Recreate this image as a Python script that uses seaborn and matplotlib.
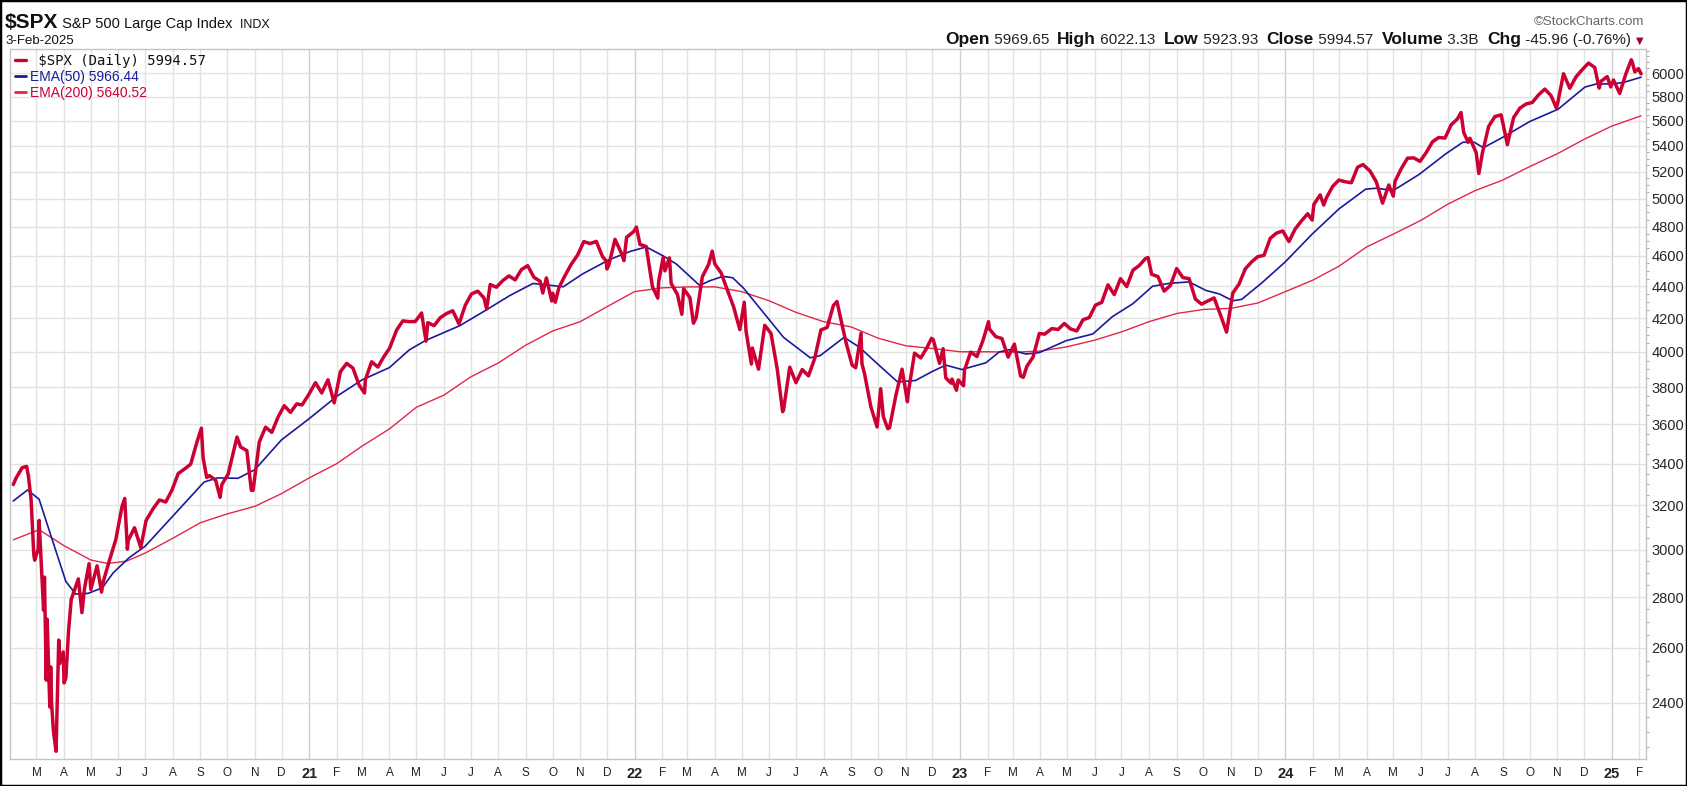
"""$SPX daily close with EMA(50) and EMA(200), StockCharts look. Saves out.png."""
import matplotlib
matplotlib.use("Agg")
import matplotlib.pyplot as plt
from matplotlib.lines import Line2D
from matplotlib.offsetbox import AnchoredOffsetbox, HPacker, TextArea
from matplotlib.patches import Rectangle
from matplotlib.ticker import FixedLocator, FixedFormatter, NullFormatter
import pandas as pd
import seaborn as sns

# closes (weekly + a few daily extremes)
SPX_2020 = [
    ("2020-02-04", 3298), ("2020-02-07", 3328), ("2020-02-14", 3380), ("2020-02-19", 3386),
    ("2020-02-21", 3338), ("2020-02-24", 3226), ("2020-02-27", 2979), ("2020-02-28", 2954),
    ("2020-03-03", 3003), ("2020-03-04", 3130), ("2020-03-06", 2972), ("2020-03-09", 2747),
    ("2020-03-10", 2882), ("2020-03-12", 2481), ("2020-03-13", 2711), ("2020-03-16", 2386),
    ("2020-03-17", 2529), ("2020-03-18", 2398), ("2020-03-20", 2305), ("2020-03-23", 2237),
    ("2020-03-26", 2630), ("2020-03-27", 2541), ("2020-03-31", 2585), ("2020-04-01", 2471),
    ("2020-04-03", 2489), ("2020-04-06", 2664), ("2020-04-09", 2790), ("2020-04-17", 2875),
    ("2020-04-21", 2737), ("2020-04-24", 2837), ("2020-04-29", 2939), ("2020-05-01", 2831),
    ("2020-05-08", 2930), ("2020-05-13", 2820), ("2020-05-15", 2864), ("2020-05-22", 2955),
    ("2020-05-29", 3044), ("2020-06-05", 3194), ("2020-06-08", 3232), ("2020-06-11", 3002),
    ("2020-06-12", 3041), ("2020-06-19", 3097), ("2020-06-26", 3009), ("2020-07-02", 3130),
    ("2020-07-10", 3185), ("2020-07-17", 3225), ("2020-07-24", 3215), ("2020-07-31", 3271),
    ("2020-08-07", 3351), ("2020-08-14", 3373), ("2020-08-21", 3397), ("2020-08-28", 3508),
    ("2020-09-02", 3580), ("2020-09-04", 3427), ("2020-09-08", 3332), ("2020-09-11", 3341),
    ("2020-09-18", 3319), ("2020-09-23", 3237), ("2020-09-25", 3298), ("2020-10-02", 3348),
    ("2020-10-09", 3477), ("2020-10-12", 3534), ("2020-10-16", 3483), ("2020-10-23", 3465),
    ("2020-10-28", 3271), ("2020-10-30", 3270), ("2020-11-06", 3509), ("2020-11-13", 3585),
    ("2020-11-20", 3558), ("2020-11-27", 3638), ("2020-12-04", 3699), ("2020-12-11", 3663),
    ("2020-12-18", 3709), ("2020-12-24", 3703), ("2020-12-31", 3756),
]
SPX_2021 = [
    ("2021-01-08", 3825), ("2021-01-15", 3768), ("2021-01-22", 3841), ("2021-01-27", 3750),
    ("2021-01-29", 3714), ("2021-02-05", 3887), ("2021-02-12", 3934), ("2021-02-19", 3907),
    ("2021-02-26", 3811), ("2021-03-04", 3768), ("2021-03-05", 3842), ("2021-03-12", 3943),
    ("2021-03-19", 3913), ("2021-03-26", 3975), ("2021-04-01", 4020), ("2021-04-09", 4129),
    ("2021-04-16", 4185), ("2021-04-23", 4180), ("2021-04-30", 4181), ("2021-05-07", 4233),
    ("2021-05-12", 4063), ("2021-05-14", 4174), ("2021-05-21", 4156), ("2021-05-28", 4204),
    ("2021-06-04", 4230), ("2021-06-11", 4247), ("2021-06-18", 4166), ("2021-06-25", 4281),
    ("2021-07-02", 4352), ("2021-07-09", 4370), ("2021-07-16", 4327), ("2021-07-19", 4258),
    ("2021-07-23", 4412), ("2021-07-30", 4395), ("2021-08-06", 4437), ("2021-08-13", 4468),
    ("2021-08-20", 4442), ("2021-08-27", 4509), ("2021-09-03", 4535), ("2021-09-10", 4459),
    ("2021-09-17", 4433), ("2021-09-20", 4358), ("2021-09-24", 4455), ("2021-09-30", 4308),
    ("2021-10-01", 4357), ("2021-10-04", 4300), ("2021-10-08", 4391), ("2021-10-15", 4471),
    ("2021-10-22", 4545), ("2021-10-29", 4605), ("2021-11-05", 4697), ("2021-11-12", 4683),
    ("2021-11-19", 4698), ("2021-11-26", 4595), ("2021-11-30", 4567), ("2021-12-01", 4513),
    ("2021-12-03", 4538), ("2021-12-10", 4712), ("2021-12-17", 4620), ("2021-12-20", 4568),
    ("2021-12-23", 4726), ("2021-12-31", 4766),
]
SPX_2022 = [
    ("2022-01-03", 4797), ("2022-01-07", 4677), ("2022-01-14", 4663), ("2022-01-21", 4398),
    ("2022-01-27", 4326), ("2022-01-28", 4432), ("2022-02-02", 4589), ("2022-02-04", 4501),
    ("2022-02-09", 4587), ("2022-02-11", 4419), ("2022-02-18", 4349), ("2022-02-23", 4225),
    ("2022-02-25", 4385), ("2022-03-04", 4329), ("2022-03-08", 4171), ("2022-03-11", 4204),
    ("2022-03-18", 4463), ("2022-03-25", 4543), ("2022-03-29", 4632), ("2022-04-01", 4546),
    ("2022-04-08", 4488), ("2022-04-14", 4393), ("2022-04-22", 4272), ("2022-04-29", 4132),
    ("2022-05-04", 4300), ("2022-05-06", 4123), ("2022-05-12", 3930), ("2022-05-13", 4023),
    ("2022-05-20", 3901), ("2022-05-27", 4158), ("2022-06-03", 4109), ("2022-06-10", 3901),
    ("2022-06-16", 3667), ("2022-06-17", 3675), ("2022-06-24", 3912), ("2022-07-01", 3825),
    ("2022-07-08", 3899), ("2022-07-15", 3863), ("2022-07-22", 3962), ("2022-07-29", 4130),
    ("2022-08-05", 4145), ("2022-08-12", 4280), ("2022-08-16", 4305), ("2022-08-19", 4228),
    ("2022-08-26", 4058), ("2022-09-02", 3924), ("2022-09-06", 3909), ("2022-09-12", 4110),
    ("2022-09-13", 3932), ("2022-09-16", 3873), ("2022-09-23", 3693), ("2022-09-30", 3586),
    ("2022-10-04", 3791), ("2022-10-07", 3640), ("2022-10-12", 3577), ("2022-10-14", 3583),
    ("2022-10-21", 3753), ("2022-10-28", 3901), ("2022-11-03", 3720), ("2022-11-04", 3771),
    ("2022-11-11", 3993), ("2022-11-18", 3965), ("2022-11-25", 4026), ("2022-11-30", 4080),
    ("2022-12-02", 4072), ("2022-12-09", 3934), ("2022-12-13", 4019), ("2022-12-16", 3852),
    ("2022-12-22", 3822), ("2022-12-23", 3845), ("2022-12-28", 3783), ("2022-12-30", 3840),
]
SPX_2023 = [
    ("2023-01-05", 3808), ("2023-01-06", 3895), ("2023-01-13", 3999), ("2023-01-20", 3973),
    ("2023-01-27", 4071), ("2023-02-02", 4180), ("2023-02-03", 4136), ("2023-02-10", 4090),
    ("2023-02-17", 4079), ("2023-02-24", 3970), ("2023-03-03", 4046), ("2023-03-10", 3862),
    ("2023-03-13", 3855), ("2023-03-17", 3917), ("2023-03-24", 3971), ("2023-03-31", 4109),
    ("2023-04-06", 4105), ("2023-04-14", 4138), ("2023-04-21", 4133), ("2023-04-28", 4169),
    ("2023-05-05", 4136), ("2023-05-12", 4124), ("2023-05-19", 4192), ("2023-05-26", 4205),
    ("2023-06-02", 4282), ("2023-06-09", 4299), ("2023-06-16", 4410), ("2023-06-23", 4348),
    ("2023-06-30", 4450), ("2023-07-07", 4399), ("2023-07-14", 4505), ("2023-07-21", 4536),
    ("2023-07-28", 4582), ("2023-07-31", 4589), ("2023-08-04", 4478), ("2023-08-11", 4464),
    ("2023-08-18", 4370), ("2023-08-25", 4406), ("2023-09-01", 4516), ("2023-09-08", 4457),
    ("2023-09-15", 4450), ("2023-09-22", 4320), ("2023-09-29", 4288), ("2023-10-06", 4308),
    ("2023-10-13", 4327), ("2023-10-20", 4224), ("2023-10-27", 4117), ("2023-11-03", 4358),
    ("2023-11-10", 4415), ("2023-11-17", 4514), ("2023-11-24", 4559), ("2023-12-01", 4595),
    ("2023-12-08", 4604), ("2023-12-15", 4719), ("2023-12-22", 4755), ("2023-12-29", 4770),
]
SPX_2024 = [
    ("2024-01-05", 4697), ("2024-01-12", 4784), ("2024-01-19", 4840), ("2024-01-26", 4891),
    ("2024-01-31", 4846), ("2024-02-02", 4959), ("2024-02-09", 5027), ("2024-02-13", 4953),
    ("2024-02-16", 5006), ("2024-02-23", 5089), ("2024-03-01", 5137), ("2024-03-08", 5124),
    ("2024-03-15", 5117), ("2024-03-22", 5234), ("2024-03-28", 5254), ("2024-04-05", 5204),
    ("2024-04-12", 5123), ("2024-04-19", 4967), ("2024-04-26", 5100), ("2024-05-01", 5018),
    ("2024-05-03", 5128), ("2024-05-10", 5223), ("2024-05-17", 5303), ("2024-05-24", 5305),
    ("2024-05-31", 5278), ("2024-06-07", 5347), ("2024-06-14", 5431), ("2024-06-21", 5465),
    ("2024-06-28", 5460), ("2024-07-05", 5567), ("2024-07-12", 5615), ("2024-07-16", 5667),
    ("2024-07-19", 5505), ("2024-07-24", 5427), ("2024-07-26", 5459), ("2024-08-02", 5346),
    ("2024-08-05", 5186), ("2024-08-09", 5344), ("2024-08-16", 5554), ("2024-08-23", 5634),
    ("2024-08-30", 5648), ("2024-09-06", 5408), ("2024-09-13", 5626), ("2024-09-20", 5703),
    ("2024-09-27", 5738), ("2024-10-04", 5751), ("2024-10-11", 5815), ("2024-10-18", 5864),
    ("2024-10-25", 5808), ("2024-10-31", 5705), ("2024-11-01", 5729), ("2024-11-08", 5996),
    ("2024-11-15", 5871), ("2024-11-22", 5969), ("2024-11-29", 6032), ("2024-12-06", 6090),
    ("2024-12-13", 6051), ("2024-12-18", 5872), ("2024-12-20", 5931), ("2024-12-27", 5971),
    ("2024-12-31", 5882),
]
SPX_2025 = [
    ("2025-01-03", 5942), ("2025-01-10", 5827), ("2025-01-17", 5997), ("2025-01-23", 6119),
    ("2025-01-24", 6101), ("2025-01-27", 6012), ("2025-01-31", 6041), ("2025-02-03", 5995),
]

EMA50 = [
    ("2020-02-04", 3220), ("2020-02-20", 3272), ("2020-03-04", 3228), ("2020-03-19", 3040),
    ("2020-04-03", 2864), ("2020-04-14", 2812), ("2020-04-28", 2815), ("2020-05-14", 2838),
    ("2020-05-26", 2900), ("2020-06-13", 2965), ("2020-07-01", 3015), ("2020-08-01", 3150),
    ("2020-09-05", 3310), ("2020-09-20", 3330), ("2020-10-13", 3328), ("2020-11-01", 3370),
    ("2020-12-01", 3520), ("2021-01-01", 3630), ("2021-02-01", 3750), ("2021-03-01", 3840),
    ("2021-04-01", 3910), ("2021-04-23", 4011), ("2021-05-11", 4066), ("2021-06-19", 4156),
    ("2021-07-15", 4240), ("2021-08-14", 4342), ("2021-09-09", 4419), ("2021-10-13", 4398),
    ("2021-11-04", 4482), ("2021-12-04", 4576), ("2021-12-27", 4630), ("2022-01-14", 4660),
    ("2022-02-02", 4600), ("2022-02-17", 4545), ("2022-03-15", 4406), ("2022-03-26", 4436),
    ("2022-04-10", 4465), ("2022-04-21", 4456), ("2022-05-03", 4390), ("2022-05-29", 4212),
    ("2022-06-17", 4086), ("2022-07-17", 3966), ("2022-07-28", 3978), ("2022-08-24", 4086),
    ("2022-09-10", 4028), ("2022-10-02", 3924), ("2022-10-23", 3829), ("2022-11-12", 3837),
    ("2022-12-01", 3888), ("2022-12-16", 3924), ("2023-01-03", 3899), ("2023-01-30", 3937),
    ("2023-02-14", 4000), ("2023-02-25", 4013), ("2023-03-16", 3988), ("2023-03-31", 3996),
    ("2023-04-30", 4066), ("2023-05-30", 4106), ("2023-06-21", 4211), ("2023-07-14", 4291),
    ("2023-08-05", 4401), ("2023-08-24", 4420), ("2023-09-15", 4429), ("2023-10-04", 4374),
    ("2023-10-19", 4352), ("2023-11-03", 4309), ("2023-11-13", 4318), ("2023-12-06", 4425),
    ("2024-01-01", 4561), ("2024-01-31", 4748), ("2024-03-01", 4925), ("2024-03-31", 5069),
    ("2024-04-12", 5076), ("2024-05-01", 5059), ("2024-05-30", 5179), ("2024-06-29", 5337),
    ("2024-07-18", 5427), ("2024-07-31", 5427), ("2024-08-10", 5384), ("2024-08-31", 5463),
    ("2024-10-01", 5593), ("2024-11-02", 5695), ("2024-12-02", 5881), ("2024-12-15", 5908),
    ("2025-01-01", 5908), ("2025-01-14", 5920), ("2025-02-03", 5966),
]
EMA200 = [
    ("2020-02-04", 3043), ("2020-03-04", 3088), ("2020-04-01", 3017), ("2020-05-01", 2955),
    ("2020-05-20", 2940), ("2020-06-10", 2950), ("2020-07-01", 2985), ("2020-08-01", 3050),
    ("2020-09-01", 3120), ("2020-10-01", 3160), ("2020-11-01", 3195), ("2020-12-01", 3255),
    ("2021-01-01", 3330), ("2021-02-01", 3400), ("2021-03-01", 3487), ("2021-04-01", 3576),
    ("2021-05-01", 3690), ("2021-06-01", 3756), ("2021-07-01", 3857), ("2021-08-01", 3936),
    ("2021-09-01", 4040), ("2021-10-01", 4124), ("2021-11-01", 4180), ("2021-12-01", 4272),
    ("2022-01-01", 4367), ("2022-02-01", 4391), ("2022-03-01", 4397), ("2022-04-01", 4397),
    ("2022-05-01", 4367), ("2022-06-01", 4309), ("2022-07-01", 4237), ("2022-08-01", 4180),
    ("2022-09-01", 4148), ("2022-10-01", 4081), ("2022-11-01", 4036), ("2022-12-01", 4020),
    ("2023-01-01", 4001), ("2023-02-01", 4001), ("2023-03-01", 3998), ("2023-04-01", 4005),
    ("2023-05-01", 4030), ("2023-06-01", 4069), ("2023-07-01", 4118), ("2023-08-01", 4180),
    ("2023-09-01", 4230), ("2023-10-01", 4255), ("2023-11-01", 4262), ("2023-12-01", 4295),
    ("2024-01-01", 4367), ("2024-02-01", 4441), ("2024-03-01", 4531), ("2024-04-01", 4660),
    ("2024-05-01", 4748), ("2024-06-01", 4844), ("2024-07-01", 4959), ("2024-08-01", 5059),
    ("2024-09-01", 5137), ("2024-10-01", 5238), ("2024-11-01", 5337), ("2024-12-01", 5450),
    ("2025-01-01", 5556), ("2025-02-03", 5640),
]

Y_TICKS = [2400, 2600, 2800, 3000, 3200, 3400, 3600, 3800, 4000, 4200,
           4400, 4600, 4800, 5000, 5200, 5400, 5600, 5800, 6000]
MONTH_LETTERS = ["J", "F", "M", "A", "M", "J", "J", "A", "S", "O", "N", "D"]

RED = "#cc0033"
BLUE = "#1a1a9c"
RED_THIN = "#e3264a"
GRID = "#e2e2e2"


def to_frame(rows, col):
    df = pd.DataFrame(rows, columns=["date", col])
    df["date"] = pd.to_datetime(df["date"])
    return df


sns.set_style("white")
plt.rcParams["font.family"] = ["Liberation Sans", "DejaVu Sans"]

spx = to_frame(SPX_2020 + SPX_2021 + SPX_2022 + SPX_2023 + SPX_2024 + SPX_2025, "close")
ema50 = to_frame(EMA50, "ema")
ema200 = to_frame(EMA200, "ema")

fig = plt.figure(figsize=(16.87, 7.86), dpi=100)
ax = fig.add_axes([10 / 1687, 27 / 786, 1636 / 1687, 710 / 786])

sns.lineplot(data=ema200, x="date", y="ema", ax=ax, color=RED_THIN, lw=1.0)
sns.lineplot(data=ema50, x="date", y="ema", ax=ax, color=BLUE, lw=1.2)
sns.lineplot(data=spx, x="date", y="close", ax=ax, color=RED, lw=2.5)

ax.set_yscale("log")
ax.set_ylim(2212, 6216)
ax.set_xlim(pd.Timestamp("2020-01-31 08:00"), pd.Timestamp("2025-02-08 12:00"))

# right-hand price scale
ax.yaxis.tick_right()
ax.yaxis.set_major_locator(FixedLocator(Y_TICKS))
ax.yaxis.set_major_formatter(FixedFormatter([str(v) for v in Y_TICKS]))
ax.yaxis.set_minor_locator(FixedLocator(list(range(2250, 6201, 50))))
ax.yaxis.set_minor_formatter(NullFormatter())
ax.tick_params(axis="y", which="major", length=0, pad=4, labelsize=10.5)
ax.tick_params(axis="y", which="minor", length=2, color="#999999", width=0.6)
ax.set_xlabel("")
ax.set_ylabel("")

# monthly gridlines + letters, year numbers in bold
months = pd.date_range("2020-03-01", "2025-02-01", freq="MS")
labels = [f"{m.year % 100:02d}" if m.month == 1 else MONTH_LETTERS[m.month - 1] for m in months]
ax.xaxis.set_major_locator(FixedLocator(matplotlib.dates.date2num(months)))
ax.xaxis.set_major_formatter(FixedFormatter(labels))
ax.tick_params(axis="x", length=0, pad=6, labelsize=8.5, labelcolor="#222222")
for tl, m in zip(ax.get_xticklabels(), months):
    if m.month == 1:
        tl.set_fontweight("bold")
        tl.set_fontsize(10.5)
for m in months:
    ax.axvline(m, color="#cfcfcf" if m.month == 1 else GRID, lw=1.0, zorder=0)
ax.grid(axis="y", which="major", color=GRID, lw=1.0)
ax.set_axisbelow(True)
for sp in ax.spines.values():
    sp.set_color("#c4c4c4")
    sp.set_linewidth(1.0)

# legend block in the top-left corner
handles = [Line2D([], [], color=RED, lw=2.4), Line2D([], [], color=BLUE, lw=2.0),
           Line2D([], [], color=RED_THIN, lw=2.0)]
leg = ax.legend(handles, [r" \$SPX (Daily) 5994.57", "EMA(50) 5966.44", "EMA(200) 5640.52"],
                loc="upper left", frameon=False, handlelength=0.8, handletextpad=0.3,
                labelspacing=0.15, borderaxespad=0.15, borderpad=0.2, fontsize=10)
for txt, col in zip(leg.get_texts(), ["#111111", BLUE, RED]):
    txt.set_color(col)
leg.get_texts()[0].set_fontfamily("DejaVu Sans Mono")
leg.get_texts()[0].set_fontsize(10)


def text_run(x, y, pieces, loc):
    boxes = [TextArea(s, textprops=kw) for s, kw in pieces]
    pack = HPacker(children=boxes, align="baseline", pad=0, sep=0)
    box = AnchoredOffsetbox(loc=loc, child=pack, pad=0, borderpad=0, frameon=False,
                            bbox_to_anchor=(x / 1687, 1 - y / 786),
                            bbox_transform=fig.transFigure)
    fig.add_artist(box)


bold = dict(fontweight="bold", fontsize=12.5, color="#111111")
num = dict(fontsize=11, color="#222222")
text_run(5, 32, [(r"\$SPX", dict(fontweight="bold", fontsize=15, color="#111111")),
                 (r" S&P 500 Large Cap Index", dict(fontsize=10.5, color="#111111")),
                 ("  INDX", dict(fontsize=9, color="#111111"))], "lower left")
text_run(5, 47, [("3-Feb-2025", dict(fontsize=9.5, color="#111111"))], "lower left")
text_run(1644, 28, [("©StockCharts.com", dict(fontsize=9.5, color="#666666"))], "lower right")
text_run(1643, 47, [("Open", bold), (" 5969.65  ", num), ("High", bold), (" 6022.13  ", num),
                    ("Low", bold), (" 5923.93  ", num), ("Close", bold), (" 5994.57  ", num),
                    ("Volume", bold), (" 3.3B  ", num), ("Chg", bold), (" -45.96 (-0.76%) ", num),
                    ("▼", dict(fontsize=7, color="#a0002a", fontfamily="DejaVu Sans"))],
         "lower right")

fig.patches.append(Rectangle((0, 0), 1, 1, transform=fig.transFigure, fill=False,
                             edgecolor="black", lw=2.5))

fig.savefig("out.png", dpi=100)
